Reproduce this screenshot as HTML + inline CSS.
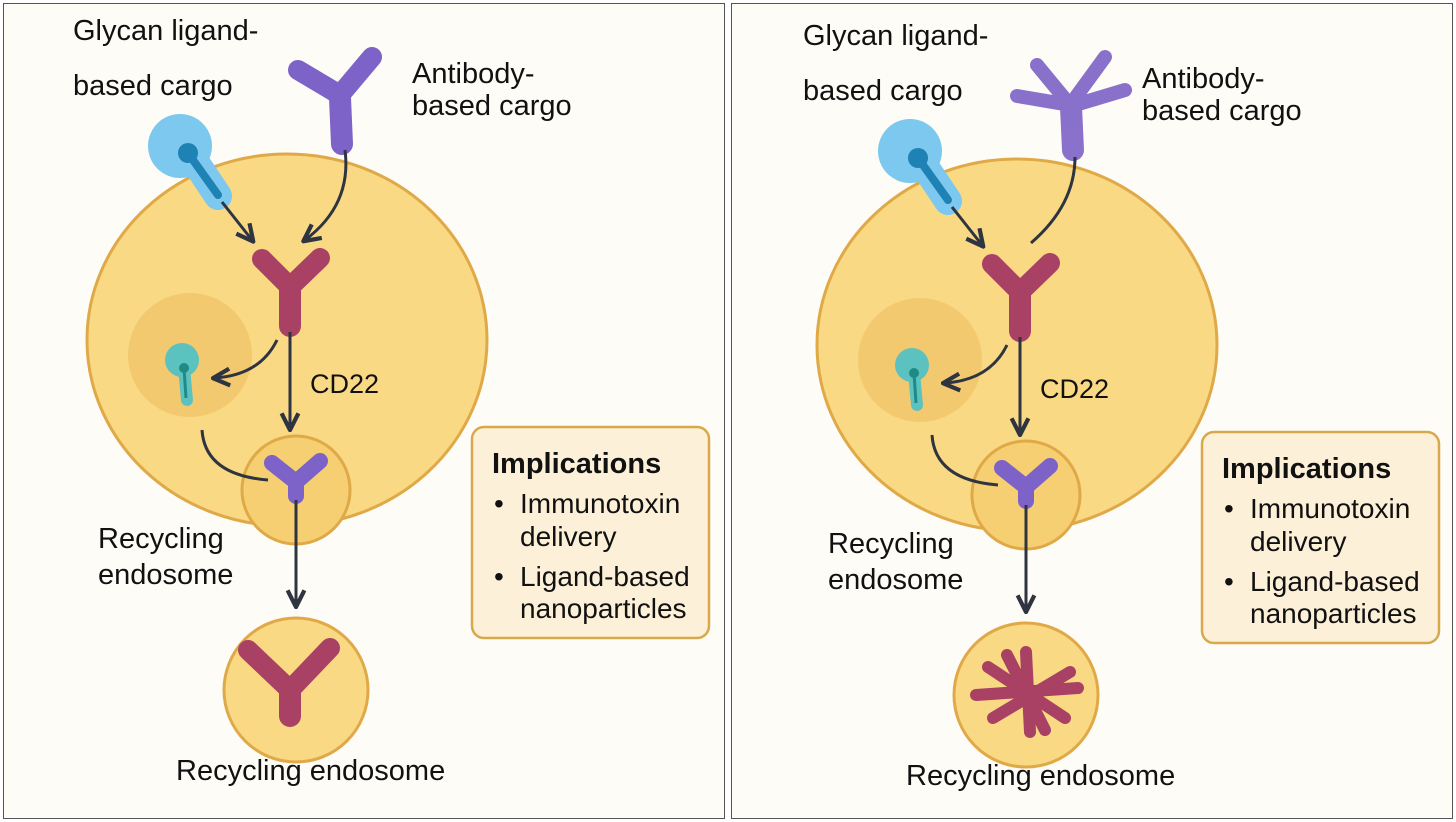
<!DOCTYPE html>
<html><head><style>
html,body{margin:0;padding:0;background:#fff;}
svg{display:block;}
text{font-family:"Liberation Sans",sans-serif;fill:#111;}
</style></head><body>
<svg width="1456" height="822" viewBox="0 0 1456 822">
<defs>
<marker id="ah" viewBox="0 0 10 10" refX="8" refY="5" markerWidth="7" markerHeight="7" orient="auto-start-reverse">
<path d="M1,1 L9,5 L1,9" fill="none" stroke="#2e3440" stroke-width="2" stroke-linejoin="round"/>
</marker>
<g id="common">
  <ellipse cx="287" cy="340" rx="200" ry="186" fill="#f9d983" stroke="#e0a948" stroke-width="3"/>
  <circle cx="190" cy="355" r="62" fill="#f1c46a" opacity="0.8"/>
  <circle cx="296" cy="490" r="54" fill="#f6cf72" stroke="#e0a948" stroke-width="3"/>
  <!-- glycan -->
  <line x1="186" y1="148" x2="218" y2="196" stroke="#7cc8ee" stroke-width="28" stroke-linecap="round"/>
  <circle cx="180" cy="146" r="32" fill="#7cc8ee"/>
  <line x1="188" y1="153" x2="218" y2="195" stroke="#1f82b5" stroke-width="8" stroke-linecap="round"/>
  <circle cx="188" cy="153" r="10" fill="#1f82b5"/>
  <!-- red Y -->
  <g stroke="#a84163" stroke-linecap="round" fill="none">
    <line x1="262" y1="259" x2="290" y2="287" stroke-width="20"/>
    <line x1="320" y1="258" x2="290" y2="287" stroke-width="20"/>
    <line x1="290" y1="290" x2="290" y2="326" stroke-width="22"/>
  </g>
  <line x1="222" y1="202" x2="252" y2="240" stroke="#2e3440" stroke-width="3" marker-end="url(#ah)"/>
  <line x1="290" y1="332" x2="290" y2="428" stroke="#2e3440" stroke-width="3" marker-end="url(#ah)"/>
  <path d="M277,340 Q260,375 215,378" fill="none" stroke="#2e3440" stroke-width="3" marker-end="url(#ah)"/>
  <circle cx="182" cy="360" r="17" fill="#5cc2c0"/>
  <line x1="184" y1="368" x2="187" y2="400" stroke="#5cc2c0" stroke-width="12" stroke-linecap="round"/>
  <line x1="184" y1="368" x2="186" y2="398" stroke="#1f8a86" stroke-width="3"/>
  <circle cx="184" cy="368" r="5" fill="#1f8a86"/>
  <path d="M202,430 Q205,475 268,480" fill="none" stroke="#2e3440" stroke-width="3"/>
  <g stroke="#7d62c7" stroke-linecap="round" fill="none">
    <line x1="272" y1="463" x2="296" y2="482" stroke-width="16"/>
    <line x1="320" y1="461" x2="296" y2="482" stroke-width="16"/>
    <line x1="296" y1="484" x2="296" y2="496" stroke-width="16"/>
  </g>
  <line x1="296" y1="500" x2="296" y2="605" stroke="#2e3440" stroke-width="3" marker-end="url(#ah)"/>
  <circle cx="296" cy="690" r="72" fill="#f9d983" stroke="#e0a948" stroke-width="3"/>
  <rect x="472" y="427" width="237" height="211" rx="12" fill="#fdf0d8" stroke="#d9a84a" stroke-width="2.5"/>
  <text x="492" y="473" font-size="29" font-weight="bold">Implications</text>
  <g font-size="28">
    <text x="494" y="513">•</text><text x="520" y="513">Immunotoxin</text>
    <text x="520" y="546">delivery</text>
    <text x="494" y="586">•</text><text x="520" y="586">Ligand-based</text>
    <text x="520" y="618">nanoparticles</text>
  </g>
  <g font-size="29">
    <text x="73" y="40">Glycan ligand-</text>
    <text x="73" y="95">based cargo</text>
    <text x="412" y="83">Antibody-</text>
    <text x="412" y="115">based cargo</text>
    <text x="310" y="393" font-size="27">CD22</text>
    <text x="98" y="548">Recycling</text>
    <text x="98" y="584">endosome</text>
    <text x="176" y="780">Recycling endosome</text>
  </g>
</g>
</defs>
<rect x="0" y="0" width="1456" height="822" fill="#ffffff"/>
<rect x="3.5" y="3.5" width="721" height="815" fill="#fefcf7" stroke="#555" stroke-width="1"/>
<rect x="731.5" y="3.5" width="721" height="815" fill="#fefcf7" stroke="#555" stroke-width="1"/>

<use href="#common"/>
<g stroke="#7d62c7" stroke-linecap="round" fill="none">
  <line x1="298" y1="70" x2="340" y2="95" stroke-width="20"/>
  <line x1="372" y1="57" x2="340" y2="95" stroke-width="20"/>
  <line x1="340" y1="98" x2="342" y2="144" stroke-width="22"/>
</g>
<path d="M345,150 Q352,205 305,240" fill="none" stroke="#2e3440" stroke-width="3" marker-end="url(#ah)"/>
<g stroke="#a84163" stroke-linecap="round" fill="none">
  <line x1="248" y1="650" x2="290" y2="690" stroke-width="20"/>
  <line x1="330" y1="648" x2="290" y2="690" stroke-width="20"/>
  <line x1="290" y1="692" x2="290" y2="716" stroke-width="22"/>
</g>

<g transform="translate(730,5)">
  <use href="#common"/>
  <g stroke="#7d62c7" stroke-linecap="round" fill="none" opacity="0.9">
    <line x1="307" y1="60" x2="340" y2="100" stroke-width="14"/>
    <line x1="375" y1="52" x2="340" y2="100" stroke-width="14"/>
    <line x1="287" y1="91" x2="340" y2="100" stroke-width="14"/>
    <line x1="395" y1="85" x2="345" y2="100" stroke-width="14"/>
    <line x1="341" y1="102" x2="343" y2="145" stroke-width="22"/>
  </g>
  <path d="M345,152 Q345,200 301,238" fill="none" stroke="#2e3440" stroke-width="3"/>
  <g stroke="#a84163" stroke-linecap="round" stroke-width="12">
    <line x1="296" y1="647" x2="300" y2="727"/>
    <line x1="258" y1="662" x2="335" y2="713"/>
    <line x1="263" y1="713" x2="340" y2="667"/>
    <line x1="246" y1="690" x2="348" y2="683"/>
    <line x1="277" y1="650" x2="315" y2="725"/>
  </g>
</g>
</svg>
</body></html>
